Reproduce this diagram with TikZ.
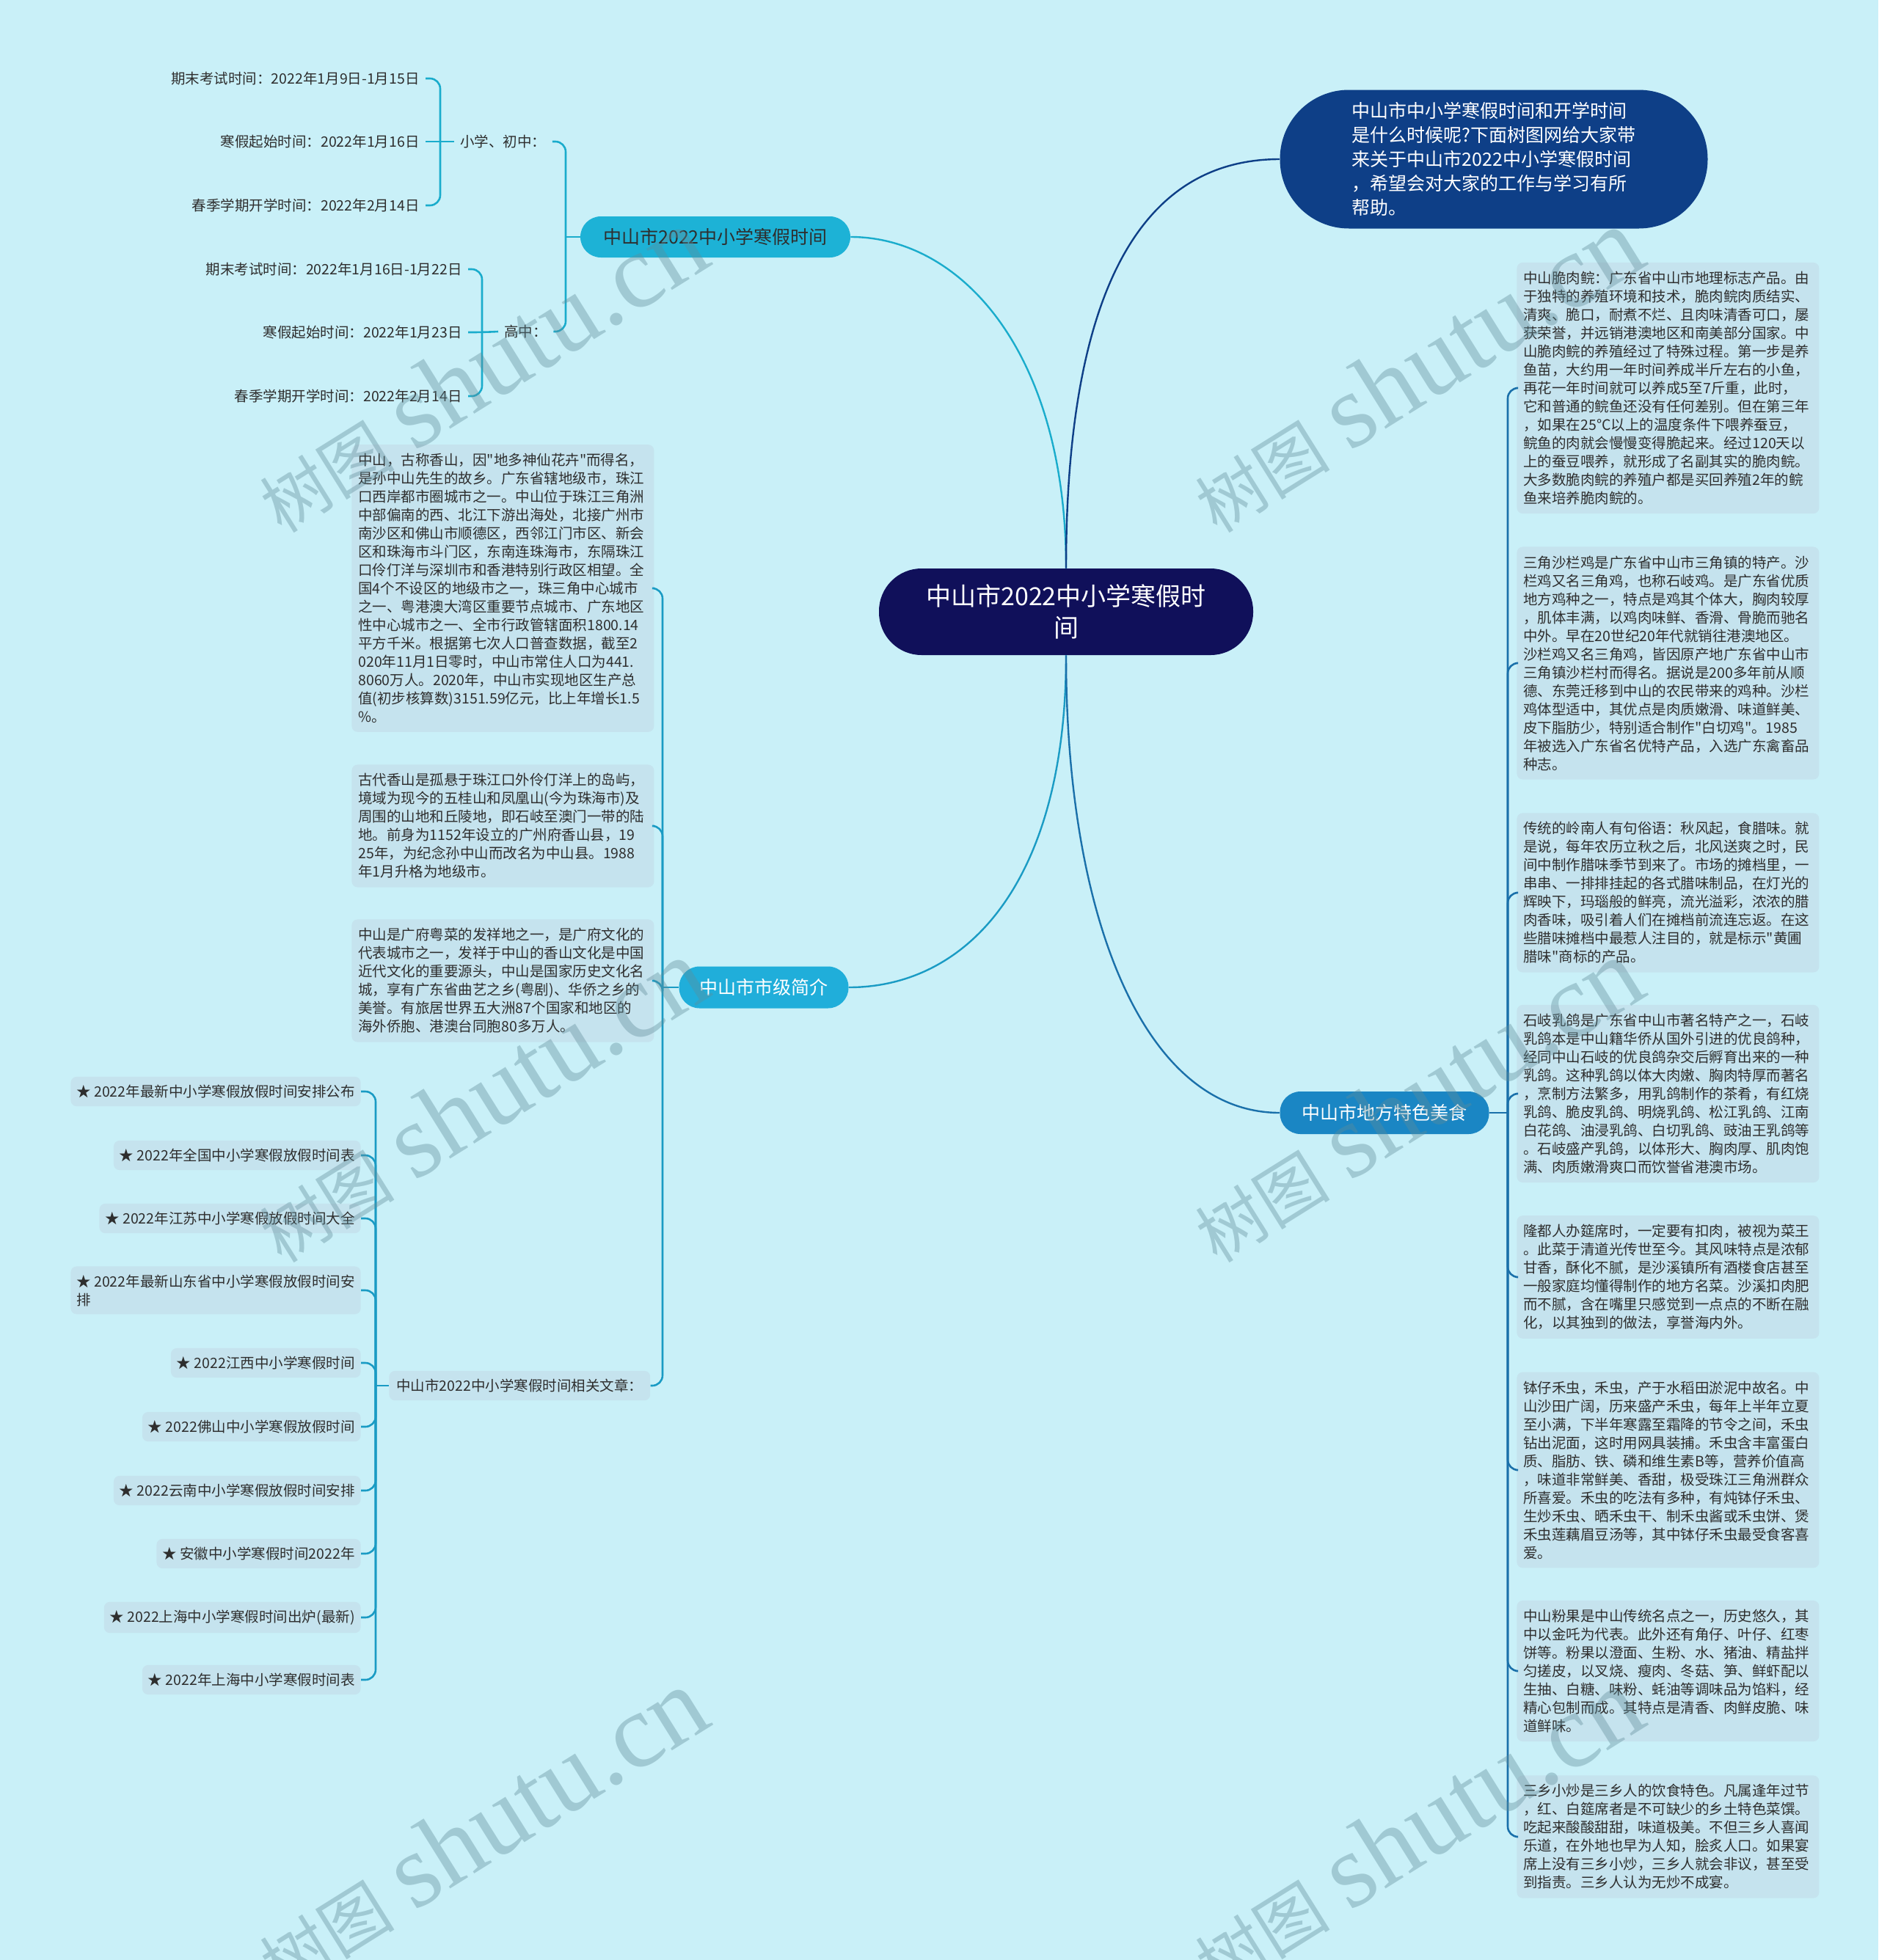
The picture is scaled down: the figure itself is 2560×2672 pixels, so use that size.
\documentclass[tikz,border=0pt]{standalone}
\usepackage{fontspec}
\setmainfont{Noto Sans CJK SC}[Ligatures=TeXOff]
\newfontfamily\wmlatin{Liberation Serif}
\usetikzlibrary{calc}
\definecolor{bgc}{HTML}{C9F0F8}
\definecolor{boxc}{HTML}{C5E3EE}
\definecolor{txtc}{HTML}{2E2E2E}
\definecolor{navyc}{HTML}{10105A}
\definecolor{introc}{HTML}{0E3F87}
\definecolor{bonec}{HTML}{1DB2D6}
\definecolor{btwoc}{HTML}{20AEDA}
\definecolor{bthreec}{HTML}{1A86C4}
\definecolor{lonec}{HTML}{1AACCC}
\definecolor{ltwoc}{HTML}{1A9BC4}
\definecolor{lthreec}{HTML}{1A70AA}
\definecolor{wmc}{HTML}{5F8C99}
\begin{document}
\begin{tikzpicture}[x=0.5pt,y=-0.5pt,
  txt/.style={font=\fontsize{9.75}{12.5}\selectfont, text=txtc},
  blk/.style={txt, fill=boxc, rounded corners=4pt, align=left, text width=197pt, inner xsep=4.5pt, inner ysep=6pt, anchor=west},
  artbox/.style={txt, fill=boxc, rounded corners=4pt, inner xsep=4pt, inner ysep=5.5pt, anchor=east, align=left},
  sched/.style={txt, inner xsep=4pt, inner ysep=2pt},
  pill/.style={rounded corners=14pt, font=\fontsize{12.5}{15}\selectfont, inner sep=0pt},
  conn/.style={line width=1.3pt, rounded corners=7pt},
  curve/.style={line width=1.2pt},
  wm/.style={text=wmc, opacity=0.38, rotate=32, inner sep=0pt}
]
\fill[bgc] (0,0) rectangle (2560,2672);
\useasboundingbox (0,0) rectangle (2560,2672);

% central and intro
\node[fill=navyc, text=white, rounded corners=29pt, minimum width=255pt, minimum height=59pt, align=center, font=\fontsize{17}{21.5}\selectfont, inner sep=0pt] (c) at (1453,834) {中山市2022中小学寒假时\\间};
\node[fill=introc, text=white, rounded corners=47pt, minimum width=291.5pt, minimum height=94.5pt, align=left, font=\fontsize{12.5}{16.5}\selectfont, inner sep=0pt] (intro) at (2036,217) {中山市中小学寒假时间和开学时间\\是什么时候呢?下面树图网给大家带\\来关于中山市2022中小学寒假时间\\，希望会对大家的工作与学习有所\\帮助。};

% branches
\node[pill, fill=bonec, text=txtc, minimum width=184pt, minimum height=28pt] (b1) at (975,323) {中山市2022中小学寒假时间};
\node[pill, fill=btwoc, text=white, minimum width=115.5pt, minimum height=28.5pt] (b2) at (1041,1346) {中山市市级简介};
\node[pill, fill=bthreec, text=white, minimum width=142.5pt, minimum height=29pt] (b3) at (1887,1517) {中山市地方特色美食};

% branch 1 children
\node[sched, anchor=west] (p1) at (619,193) {小学、初中：};
\node[sched, anchor=west] (p2) at (679,452) {高中：};
\node[sched, anchor=east] (s1) at (580,107) {期末考试时间：2022年1月9日-1月15日};
\node[sched, anchor=east] (s2) at (580,193) {寒假起始时间：2022年1月16日};
\node[sched, anchor=east] (s3) at (580,280) {春季学期开学时间：2022年2月14日};
\node[sched, anchor=east] (h1) at (638,367) {期末考试时间：2022年1月16日-1月22日};
\node[sched, anchor=east] (h2) at (638,453) {寒假起始时间：2022年1月23日};
\node[sched, anchor=east] (h3) at (638,540) {春季学期开学时间：2022年2月14日};

% branch 2 children
\node[blk] (l1) at (479,802) {中山，古称香山，因"地多神仙花卉"而得名，\\是孙中山先生的故乡。广东省辖地级市，珠江\\口西岸都市圈城市之一。中山位于珠江三角洲\\中部偏南的西、北江下游出海处，北接广州市\\南沙区和佛山市顺德区，西邻江门市区、新会\\区和珠海市斗门区，东南连珠海市，东隔珠江\\口伶仃洋与深圳市和香港特别行政区相望。全\\国4个不设区的地级市之一，珠三角中心城市\\之一、粤港澳大湾区重要节点城市、广东地区\\性中心城市之一、全市行政管辖面积1800.14\\平方千米。根据第七次人口普查数据，截至2\\020年11月1日零时，中山市常住人口为441.\\8060万人。2020年，中山市实现地区生产总\\值(初步核算数)3151.59亿元，比上年增长1.5\\\%。};
\node[blk] (l2) at (479,1126) {古代香山是孤悬于珠江口外伶仃洋上的岛屿，\\境域为现今的五桂山和凤凰山(今为珠海市)及\\周围的山地和丘陵地，即石岐至澳门一带的陆\\地。前身为1152年设立的广州府香山县，19\\25年，为纪念孙中山而改名为中山县。1988\\年1月升格为地级市。};
\node[blk] (l3) at (479,1337) {中山是广府粤菜的发祥地之一，是广府文化的\\代表城市之一，发祥于中山的香山文化是中国\\近代文化的重要源头，中山是国家历史文化名\\城，享有广东省曲艺之乡(粤剧)、华侨之乡的\\美誉。有旅居世界五大洲87个国家和地区的\\海外侨胞、港澳台同胞80多万人。};
\node[txt, fill=boxc, rounded corners=4pt, inner xsep=5pt, inner ysep=5.5pt, anchor=west] (l4) at (530,1889) {中山市2022中小学寒假时间相关文章：};

% articles
\node[artbox] (a1) at (492,1488) {★ 2022年最新中小学寒假放假时间安排公布};
\node[artbox] (a2) at (492,1575) {★ 2022年全国中小学寒假放假时间表};
\node[artbox] (a3) at (492,1661) {★ 2022年江苏中小学寒假放假时间大全};
\node[artbox] (a4) at (492,1759) {★ 2022年最新山东省中小学寒假放假时间安\\排};
\node[artbox] (a5) at (492,1858) {★ 2022江西中小学寒假时间};
\node[artbox] (a6) at (492,1945) {★ 2022佛山中小学寒假放假时间};
\node[artbox] (a7) at (492,2032) {★ 2022云南中小学寒假放假时间安排};
\node[artbox] (a8) at (492,2118) {★ 安徽中小学寒假时间2022年};
\node[artbox] (a9) at (492,2205) {★ 2022上海中小学寒假时间出炉(最新)};
\node[artbox] (a10) at (492,2290) {★ 2022年上海中小学寒假时间表};

% branch 3 children
\node[blk] (r1) at (2067,529) {中山脆肉鲩：广东省中山市地理标志产品。由\\于独特的养殖环境和技术，脆肉鲩肉质结实、\\清爽、脆口，耐煮不烂、且肉味清香可口，屡\\获荣誉，并远销港澳地区和南美部分国家。中\\山脆肉鲩的养殖经过了特殊过程。第一步是养\\鱼苗，大约用一年时间养成半斤左右的小鱼，\\再花一年时间就可以养成5至7斤重，此时，\\它和普通的鲩鱼还没有任何差别。但在第三年\\，如果在25°C以上的温度条件下喂养蚕豆，\\鲩鱼的肉就会慢慢变得脆起来。经过120天以\\上的蚕豆喂养，就形成了名副其实的脆肉鲩。\\大多数脆肉鲩的养殖户都是买回养殖2年的鲩\\鱼来培养脆肉鲩的。};
\node[blk] (r2) at (2067,904) {三角沙栏鸡是广东省中山市三角镇的特产。沙\\栏鸡又名三角鸡，也称石岐鸡。是广东省优质\\地方鸡种之一，特点是鸡其个体大，胸肉较厚\\，肌体丰满，以鸡肉味鲜、香滑、骨脆而驰名\\中外。早在20世纪20年代就销往港澳地区。\\沙栏鸡又名三角鸡，皆因原产地广东省中山市\\三角镇沙栏村而得名。据说是200多年前从顺\\德、东莞迁移到中山的农民带来的鸡种。沙栏\\鸡体型适中，其优点是肉质嫩滑、味道鲜美、\\皮下脂肪少，特别适合制作"白切鸡"。1985\\年被选入广东省名优特产品，入选广东禽畜品\\种志。};
\node[blk] (r3) at (2067,1217) {传统的岭南人有句俗语：秋风起，食腊味。就\\是说，每年农历立秋之后，北风送爽之时，民\\间中制作腊味季节到来了。市场的摊档里，一\\串串、一排排挂起的各式腊味制品，在灯光的\\辉映下，玛瑙般的鲜亮，流光溢彩，浓浓的腊\\肉香味，吸引着人们在摊档前流连忘返。在这\\些腊味摊档中最惹人注目的，就是标示"黄圃\\腊味"商标的产品。};
\node[blk] (r4) at (2067,1491) {石岐乳鸽是广东省中山市著名特产之一，石岐\\乳鸽本是中山籍华侨从国外引进的优良鸽种，\\经同中山石岐的优良鸽杂交后孵育出来的一种\\乳鸽。这种乳鸽以体大肉嫩、胸肉特厚而著名\\，烹制方法繁多，用乳鸽制作的茶肴，有红烧\\乳鸽、脆皮乳鸽、明烧乳鸽、松江乳鸽、江南\\白花鸽、油浸乳鸽、白切乳鸽、豉油王乳鸽等\\。石岐盛产乳鸽，以体形大、胸肉厚、肌肉饱\\满、肉质嫩滑爽口而饮誉省港澳市场。};
\node[blk] (r5) at (2067,1741) {隆都人办筵席时，一定要有扣肉，被视为菜王\\。此菜于清道光传世至今。其风味特点是浓郁\\甘香，酥化不腻，是沙溪镇所有酒楼食店甚至\\一般家庭均懂得制作的地方名菜。沙溪扣肉肥\\而不腻，含在嘴里只感觉到一点点的不断在融\\化，以其独到的做法，享誉海内外。};
\node[blk] (r6) at (2067,2004) {钵仔禾虫，禾虫，产于水稻田淤泥中故名。中\\山沙田广阔，历来盛产禾虫，每年上半年立夏\\至小满，下半年寒露至霜降的节令之间，禾虫\\钻出泥面，这时用网具装捕。禾虫含丰富蛋白\\质、脂肪、铁、磷和维生素B等，营养价值高\\，味道非常鲜美、香甜，极受珠江三角洲群众\\所喜爱。禾虫的吃法有多种，有炖钵仔禾虫、\\生炒禾虫、晒禾虫干、制禾虫酱或禾虫饼、煲\\禾虫莲藕眉豆汤等，其中钵仔禾虫最受食客喜\\爱。};
\node[blk] (r7) at (2067,2278) {中山粉果是中山传统名点之一，历史悠久，其\\中以金吒为代表。此外还有角仔、叶仔、红枣\\饼等。粉果以澄面、生粉、水、猪油、精盐拌\\匀搓皮，以叉烧、瘦肉、冬菇、笋、鲜虾配以\\生抽、白糖、味粉、蚝油等调味品为馅料，经\\精心包制而成。其特点是清香、肉鲜皮脆、味\\道鲜味。};
\node[blk] (r8) at (2067,2504) {三乡小炒是三乡人的饮食特色。凡属逢年过节\\，红、白筵席者是不可缺少的乡土特色菜馔。\\吃起来酸酸甜甜，味道极美。不但三乡人喜闻\\乐道，在外地也早为人知，脍炙人口。如果宴\\席上没有三乡小炒，三乡人就会非议，甚至受\\到指责。三乡人认为无炒不成宴。};

% main curves
\draw[curve, lonec] (c.north) .. controls ($(c.north)+(0,-295)$) and ($(b1.east)+(150,0)$) .. (b1.east);
\draw[curve, introc] (c.north) .. controls ($(c.north)+(0,-325)$) and ($(intro.west)+(-215,0)$) .. (intro.west);
\draw[curve, ltwoc] (c.south) .. controls ($(c.south)+(0,307)$) and ($(b2.east)+(163,0)$) .. (b2.east);
\draw[curve, lthreec] (c.south) .. controls ($(c.south)+(0,357)$) and ($(b3.west)+(-185,0)$) .. (b3.west);

% branch 1 brackets
\coordinate (t1) at (771,323);
\draw[conn, lonec] (p1.east) -| (t1);
\draw[conn, lonec] (p2.east) -| (t1);
\draw[conn, lonec] (t1) -- (b1.west);
\coordinate (ts) at (600,193);
\draw[conn, lonec] (s1.east) -| (ts);
\draw[conn, lonec] (s3.east) -| (ts);
\draw[conn, lonec] (s2.east) -- (ts) -- (p1.west);
\coordinate (th) at (657,453);
\draw[conn, lonec] (h1.east) -| (th);
\draw[conn, lonec] (h3.east) -| (th);
\draw[conn, lonec] (h2.east) -- (th) -- (p2.west);

% branch 2 brackets
\coordinate (t2) at (903,1346);
\foreach \n in {l1,l2,l3,l4} \draw[conn, ltwoc] (\n.east) -| (t2);
\draw[conn, ltwoc] (t2) -- (b2.west);
\coordinate (ta) at (512,1889);
\foreach \n in {a1,a2,a3,a4,a5,a6,a7,a8,a9,a10} \draw[conn, ltwoc] (\n.east) -| (ta);
\draw[conn, ltwoc] (ta) -- (l4.west);

% branch 3 brackets
\coordinate (t3) at (2055,1517);
\foreach \n in {r1,r2,r3,r4,r5,r6,r7,r8} \draw[conn, lthreec] (\n.west) -| (t3);
\draw[conn, lthreec] (t3) -- (b3.east);

% watermarks
\foreach \wx/\wy [count=\k] in {655/505, 1930/505, 655/1500, 1930/1500, 655/2495, 1930/2495}
  \node[wm] (wm\k) at (\wx,\wy) {{\fontsize{46}{46}\selectfont 树图}\hspace{14pt}{\wmlatin\fontsize{72}{72}\selectfont shutu.cn}};
\end{tikzpicture}
\end{document}
